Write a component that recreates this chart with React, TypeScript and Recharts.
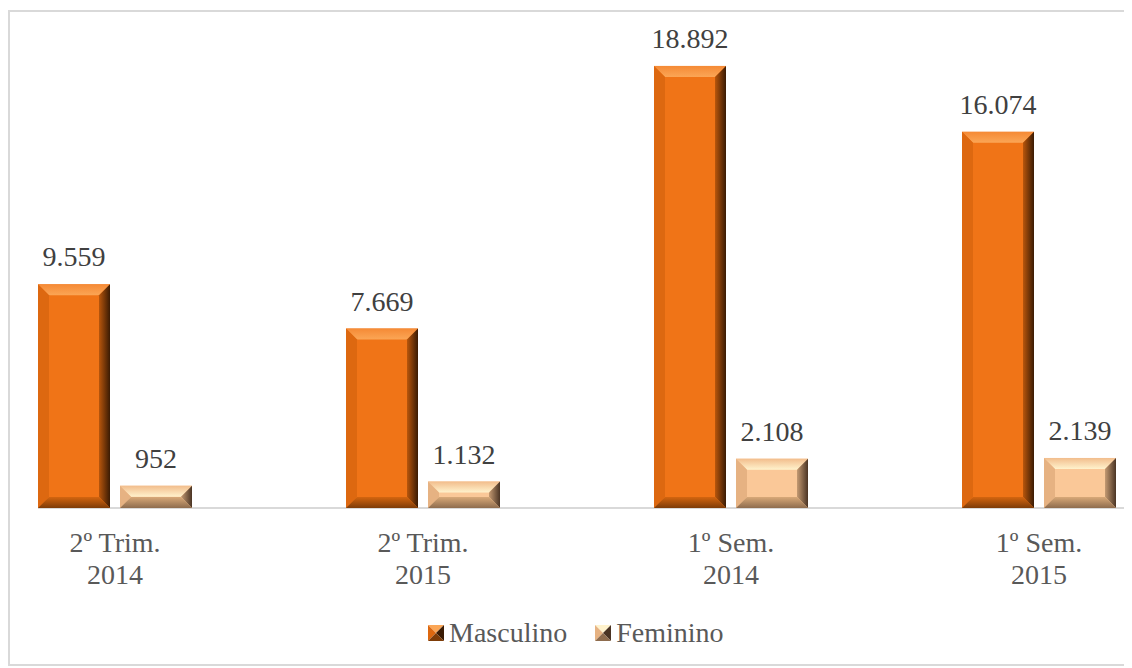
import React from "react";
import { BarChart, Bar, XAxis, YAxis, LabelList } from "recharts";

const periods = ["2º Trim.|2014", "2º Trim.|2015", "1º Sem.|2014", "1º Sem.|2015"];
const masculino = [9559, 7669, 18892, 16074];
const feminino = [952, 1132, 2108, 2139];

const data = periods.map((p, i) => ({
  period: p,
  masculino: masculino[i],
  feminino: feminino[i],
}));

const FONT = "Liberation Serif, Tinos, DejaVu Serif, Times New Roman, serif";

const palette: Record<string, any> = {
  masculino: {
    main: "#F07417",
    topOut: "#F58A35",
    topIn: "#FBA656",
    left: "#DD6810",
    rightIn: "#B8560C",
    rightOut: "#3A1B04",
    botIn: "#D4650F",
    botOut: "#7E3C08",
  },
  feminino: {
    main: "#FAC898",
    topOut: "#F2BD8C",
    topIn: "#FFF2CC",
    left: "#E6B282",
    rightIn: "#C49A72",
    rightOut: "#4A3424",
    botIn: "#D8A978",
    botOut: "#8E6C4E",
  },
};

const fmt = (v: number) => String(v).replace(/\B(?=(\d{3})+(?!\d))/g, ".");

function Gradients() {
  return (
    <defs>
      {Object.keys(palette).map((k) => {
        const c = palette[k];
        return (
          <React.Fragment key={k}>
            <linearGradient id={`${k}-top`} x1="0" y1="0" x2="0" y2="1">
              <stop offset="0%" stopColor={c.topOut} />
              <stop offset="100%" stopColor={c.topIn} />
            </linearGradient>
            <linearGradient id={`${k}-right`} x1="0" y1="0" x2="1" y2="0">
              <stop offset="0%" stopColor={c.rightIn} />
              <stop offset="100%" stopColor={c.rightOut} />
            </linearGradient>
            <linearGradient id={`${k}-bot`} x1="0" y1="0" x2="0" y2="1">
              <stop offset="0%" stopColor={c.botIn} />
              <stop offset="100%" stopColor={c.botOut} />
            </linearGradient>
          </React.Fragment>
        );
      })}
    </defs>
  );
}

function bevelShape(key: string) {
  return (props: any) => {
    const { x, y, width: w, height: h } = props;
    if (!h || h <= 0) return <g />;
    const c = palette[key];
    const b = Math.min(11, h / 2, w / 2);
    return (
      <g>
        <rect x={x} y={y} width={w} height={h} fill={c.main} />
        <polygon
          points={`${x},${y} ${x + w},${y} ${x + w - b},${y + b} ${x + b},${y + b}`}
          fill={`url(#${key}-top)`}
        />
        <polygon
          points={`${x},${y} ${x + b},${y + b} ${x + b},${y + h - b} ${x},${y + h}`}
          fill={c.left}
        />
        <polygon
          points={`${x + w},${y} ${x + w},${y + h} ${x + w - b},${y + h - b} ${x + w - b},${y + b}`}
          fill={`url(#${key}-right)`}
        />
        <polygon
          points={`${x},${y + h} ${x + w},${y + h} ${x + w - b},${y + h - b} ${x + b},${y + h - b}`}
          fill={`url(#${key}-bot)`}
        />
      </g>
    );
  };
}

function PeriodTick(props: any) {
  const { x, y, payload } = props;
  const [a, b] = String(payload.value).split("|");
  return (
    <g>
      <text x={x} y={y + 44} textAnchor="middle" fill="#595959" fontSize={28} fontFamily={FONT}>
        {a}
      </text>
      <text x={x} y={y + 76} textAnchor="middle" fill="#595959" fontSize={28} fontFamily={FONT}>
        {b}
      </text>
    </g>
  );
}

function LegendIcon({ k }: { k: string }) {
  const c = palette[k];
  return (
    <svg width={16} height={16} style={{ display: "block" }}>
      <polygon points="0,0 16,0 8,8" fill={c.topIn} />
      <polygon points="0,0 8,8 0,16" fill={c.left} />
      <polygon points="16,0 16,16 8,8" fill={c.rightOut} />
      <polygon points="0,16 16,16 8,8" fill={c.botOut} />
    </svg>
  );
}

const legendItems = [
  { key: "masculino", label: "Masculino" },
  { key: "feminino", label: "Feminino" },
];

export default function App() {
  return (
    <div
      style={{
        marginTop: 2,
        width: 1120,
        height: 652,
        border: "2px solid #D9D9D9",
        position: "relative",
        overflow: "hidden",
        background: "#fff",
      }}
    >
      <div
        style={{
          position: "absolute",
          left: 28,
          top: 495,
          width: 1092,
          height: 2,
          background: "#D9D9D9",
        }}
      />
      <div style={{ position: "absolute", left: -49, top: 0 }}>
        <BarChart
          width={1232}
          height={596}
          data={data}
          margin={{ top: 28, right: 0, left: 0, bottom: 0 }}
          barSize={72}
          barGap={10}
          barCategoryGap={77}
        >
          <Gradients />
          <XAxis
            dataKey="period"
            axisLine={false}
            tickLine={false}
            tickSize={0}
            tickMargin={0}
            height={100}
            interval={0}
            tick={<PeriodTick />}
          />
          <YAxis hide domain={[0, 20000]} />
          <Bar dataKey="masculino" isAnimationActive={false} shape={bevelShape("masculino")}>
            <LabelList
              dataKey="masculino"
              position="top"
              offset={18}
              formatter={(v: any) => fmt(v)}
              fill="#404040"
              fontSize={28}
              fontFamily={FONT}
            />
          </Bar>
          <Bar dataKey="feminino" isAnimationActive={false} shape={bevelShape("feminino")}>
            <LabelList
              dataKey="feminino"
              position="top"
              offset={18}
              formatter={(v: any) => fmt(v)}
              fill="#404040"
              fontSize={28}
              fontFamily={FONT}
            />
          </Bar>
        </BarChart>
      </div>
      <div
        style={{
          position: "absolute",
          left: 418,
          top: 603,
          height: 36,
          display: "flex",
          alignItems: "center",
          fontFamily: FONT,
          fontSize: 28,
          lineHeight: "36px",
          color: "#595959",
        }}
      >
        {legendItems.map((it, i) => (
          <div
            key={it.key}
            style={{ display: "flex", alignItems: "center", marginLeft: i === 0 ? 0 : 28 }}
          >
            <LegendIcon k={it.key} />
            <span style={{ marginLeft: 5 }}>{it.label}</span>
          </div>
        ))}
      </div>
    </div>
  );
}
